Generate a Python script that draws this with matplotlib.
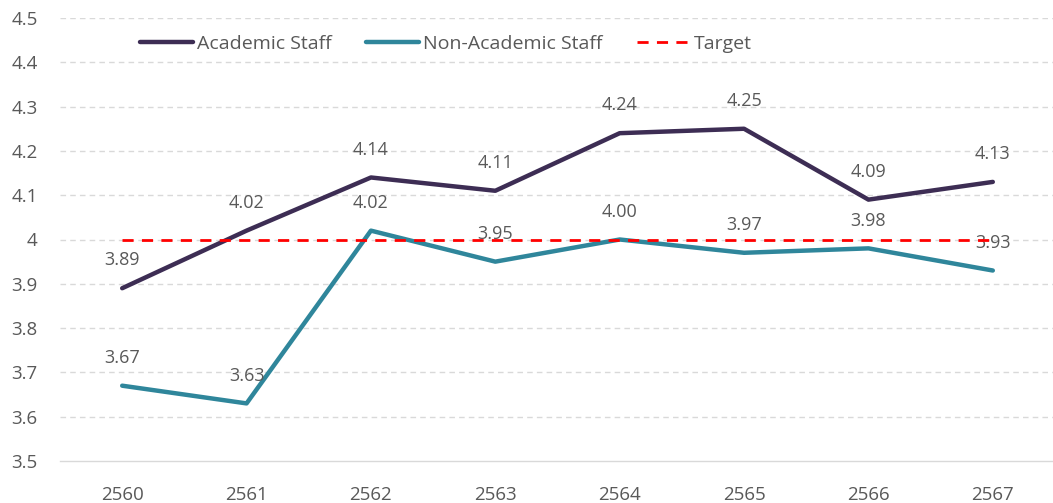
import matplotlib
matplotlib.use("Agg")
import matplotlib.pyplot as plt

years = ["2560", "2561", "2562", "2563", "2564", "2565", "2566", "2567"]
academic = [3.89, 4.02, 4.14, 4.11, 4.24, 4.25, 4.09, 4.13]
non_academic = [3.67, 3.63, 4.02, 3.95, 4.00, 3.97, 3.98, 3.93]
target = [4.0] * 8
yticks = [3.5, 3.6, 3.7, 3.8, 3.9, 4.0, 4.1, 4.2, 4.3, 4.4, 4.5]
ytick_labels = ["3.5", "3.6", "3.7", "3.8", "3.9", "4", "4.1", "4.2", "4.3", "4.4", "4.5"]

plt.rcParams['font.family'] = ['Open Sans', 'DejaVu Sans']
txt = "#595959"

fig = plt.figure(figsize=(10.53, 5.03), dpi=100)
ax = fig.add_axes([60/1053, 1-461/503, 995/1053, (461-18)/503])

x = list(range(len(years)))
ax.plot(x, academic, color="#3d2d54", lw=3.2, label="Academic Staff", solid_capstyle="round", zorder=3)
ax.plot(x, non_academic, color="#2f869b", lw=3.2, label="Non-Academic Staff", solid_capstyle="round", zorder=3)
ax.plot(x, target, color="#ff0000", lw=2, ls=(0, (4, 3)), label="Target", zorder=4)

for xi, v in zip(x, academic):
    ax.annotate(f"{v:.2f}", (xi, v), xytext=(0, 20), textcoords="offset points",
                ha="center", va="center", fontsize=13, color=txt)
for xi, v in zip(x, non_academic):
    ax.annotate(f"{v:.2f}", (xi, v), xytext=(0, 20), textcoords="offset points",
                ha="center", va="center", fontsize=13, color=txt)

ax.set_xlim(-0.5, len(years) - 0.5)
ax.set_ylim(3.5, 4.5)
ax.set_xticks(x)
ax.set_xticklabels(years, fontsize=13.5, color=txt)
ax.set_yticks(yticks)
ax.set_yticklabels(ytick_labels, fontsize=13.5, color=txt)
ax.tick_params(length=0)
ax.tick_params(axis='x', pad=18)
ax.tick_params(axis='y', pad=16)

for s in ["top", "right", "left"]:
    ax.spines[s].set_visible(False)
ax.spines["bottom"].set_color("#d9d9d9")
ax.spines["bottom"].set_linewidth(1)
for t in yticks[1:]:
    ax.axhline(t, color="#d9d9d9", lw=1, ls=(0, (4, 3)), zorder=0)

leg = ax.legend(loc="center left", bbox_to_anchor=(80/995, 1 - 26/443), ncol=3, frameon=False,
                fontsize=14, handlelength=2.75, handletextpad=0.2, columnspacing=1.75,
                borderaxespad=0.0, borderpad=0.0)
for t in leg.get_texts():
    t.set_color(txt)

fig.savefig("out.png", dpi=100)
